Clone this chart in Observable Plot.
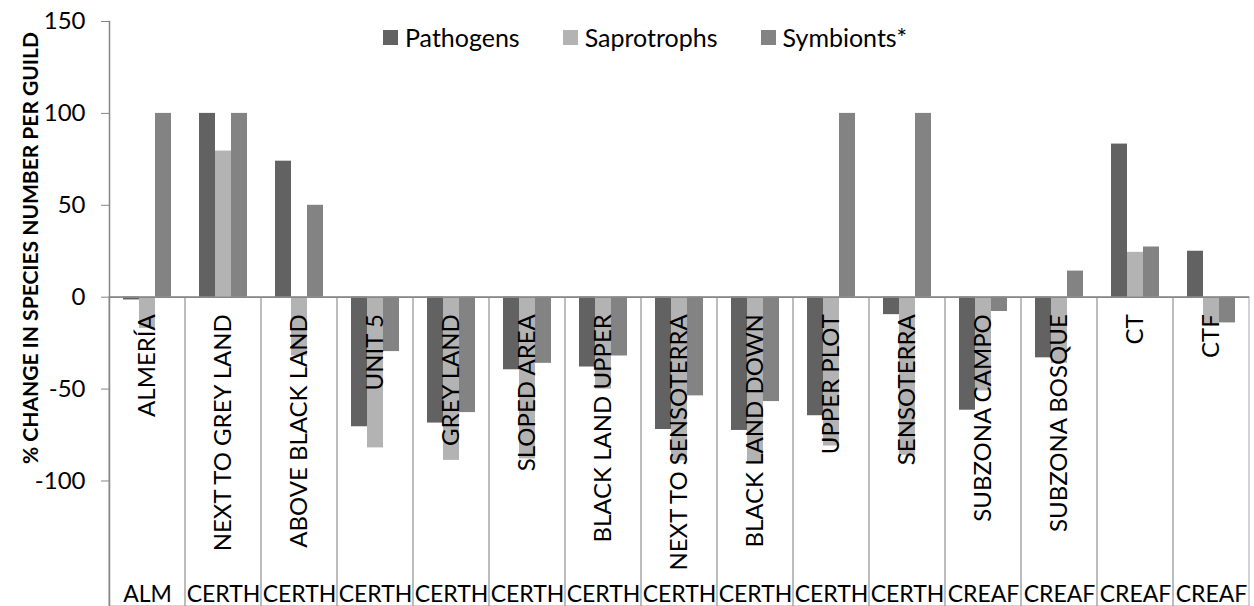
<!DOCTYPE html>
<html><head><meta charset="utf-8">
<script src="https://cdn.jsdelivr.net/npm/d3@7"></script>
<script src="https://cdn.jsdelivr.net/npm/@observablehq/plot@0.6"></script>
<style>
body{margin:0;background:#fff;font-family:Lato,"Open Sans",sans-serif}
#wrap{position:relative;width:1254px;height:606px;overflow:hidden}
#legend{position:absolute;top:21px;left:383px;display:flex;align-items:center;font-size:25px;color:#000;line-height:32px}
.item{display:flex;align-items:center;margin-right:43px}
.sw{width:15px;height:15px;margin-right:7px}
#ytitle{position:absolute;left:29px;top:248px;transform:translate(-50%,-50%) rotate(-90deg);white-space:nowrap;font-weight:bold;font-size:21px;color:#000}
</style></head>
<body><div id="wrap"></div>
<script>
const sites = ["ALMERÍA","NEXT TO GREY LAND","ABOVE BLACK LAND","UNIT 5","GREY LAND","SLOPED AREA","BLACK LAND UPPER","NEXT TO SENSOTERRA","BLACK LAND DOWN","UPPER PLOT","SENSOTERRA","SUBZONA CAMPO","SUBZONA BOSQUE","CT","CTF"];
const groups = ["ALM","CERTH","CERTH","CERTH","CERTH","CERTH","CERTH","CERTH","CERTH","CERTH","CERTH","CREAF","CREAF","CREAF","CREAF"];
const guilds = ["Pathogens","Saprotrophs","Symbionts*"];
const pathogens   = [-1.5, 100, 74, -70.5, -68.5, -39.5, -38, -72, -72.5, -64.5, -9.5, -61.5, -33, 83.3, 25];
const saprotrophs = [-17, 79.5, -32, -82, -88.8, -88, -50, -89, -90, -81, -86, -51, -36, 24.4, -15];
const symbionts   = [100, 100, 50, -29.6, -62.8, -36, -32, -53.7, -56.8, 100, 100, -7.8, 14.2, 27.3, -14];
const yTicks = [-100, -50, 0, 50, 100, 150];
const colors = ["#626262", "#b3b3b3", "#838383"];
const yDomain = [-168.3, 150];

const series = [pathogens, saprotrophs, symbionts];
const data = sites.flatMap((s, i) => guilds.map((g, k) => ({site: s, guild: g, value: series[k][i]})));
const siteRows = sites.map((s, i) => ({site: s, group: groups[i]}));

const chart = Plot.plot({
  width: 1254, height: 606,
  marginLeft: 106, marginRight: 2, marginTop: 21, marginBottom: 0,
  style: {fontFamily: "Lato, 'Open Sans', sans-serif", fontSize: "24px", color: "#000", background: "#fff"},
  fx: {domain: sites, padding: 0, axis: null},
  x: {domain: guilds, paddingInner: 0, paddingOuter: 0.79, axis: null},
  y: {domain: yDomain},
  color: {domain: guilds, range: colors},
  marks: [
    Plot.rect(siteRows, {fx: "site", y1: () => yDomain[0], y2: () => 0, fill: "none", stroke: "#a6a6a6", strokeWidth: 1}),
    Plot.barY(data, {fx: "site", x: "guild", y: "value", fill: "guild", inset: 0}),
    Plot.ruleY([0], {stroke: "#888", strokeWidth: 1.5}),
    Plot.frame({anchor: "left", facetAnchor: "left", stroke: "#868686", strokeWidth: 1.5}),
    Plot.axisY({ticks: yTicks, tickFormat: d => String(d), tickSize: 8, tickPadding: 16, stroke: "#868686", fill: "#000", fontSize: 24, label: null}),
    Plot.text(siteRows, {fx: "site", text: "site", y: () => 0, rotate: -90, textAnchor: "end", dy: 17, fontSize: 24, fill: "#000"}),
    Plot.text(siteRows, {fx: "site", text: "group", frameAnchor: "bottom", lineAnchor: "bottom", dy: -5, fontSize: 23, fill: "#000"})
  ]
});

const wrap = document.getElementById("wrap");
wrap.appendChild(chart);

const legend = document.createElement("div");
legend.id = "legend";
guilds.forEach((g, k) => {
  const it = document.createElement("div");
  it.className = "item";
  const sw = document.createElement("span");
  sw.className = "sw";
  sw.style.background = colors[k];
  const tx = document.createElement("span");
  tx.textContent = g;
  it.appendChild(sw); it.appendChild(tx);
  legend.appendChild(it);
});
wrap.appendChild(legend);

const yt = document.createElement("div");
yt.id = "ytitle";
yt.textContent = "% CHANGE IN SPECIES NUMBER PER GUILD";
wrap.appendChild(yt);
</script>
</body></html>
